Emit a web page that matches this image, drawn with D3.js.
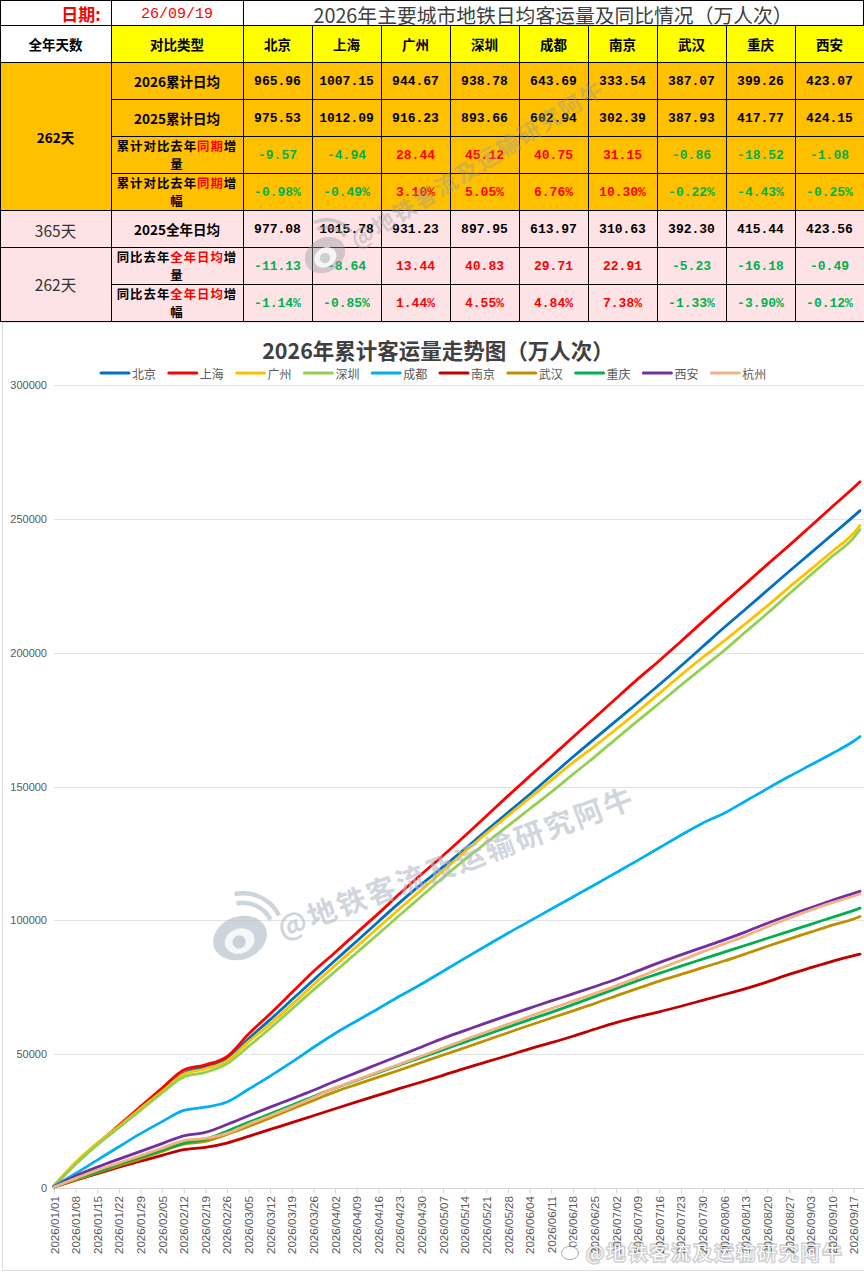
<!DOCTYPE html>
<html>
<head>
<meta charset="utf-8">
<script src="https://cdn.jsdelivr.net/npm/d3@7/dist/d3.min.js"></script>
<style>
  html, body { margin: 0; padding: 0; background: #fff; overflow: hidden; }
  svg { display: block; }
  text { font-family: "Noto Sans CJK SC", sans-serif; }
  .mono { font-family: "Liberation Mono", "Noto Sans CJK SC", monospace; }
  .axis text { font-family: "Liberation Sans", sans-serif; fill: #595959; }
  .axis path, .axis line { stroke: #d4d4d4; }
</style>
</head>
<body>
<div id="chart"></div>
<script>
// table contents
const tableDate = '26/09/19'
const tableTitle = '2026年主要城市地铁日均客运量及同比情况（万人次）'
const tableCities = ['北京', '上海', '广州', '深圳', '成都', '南京', '武汉', '重庆', '西安']
const rowLabels = ['2026累计日均', '2025累计日均', '累计对比去年同期增量', '累计对比去年同期增幅', '2025全年日均', '同比去年全年日均增量', '同比去年全年日均增幅']
const rowRedWords = ['', '', '同期', '同期', '', '全年日均', '全年日均']
const avg2026 = ['965.96', '1007.15', '944.67', '938.78', '643.69', '333.54', '387.07', '399.26', '423.07']
const avg2025 = ['975.53', '1012.09', '916.23', '893.66', '602.94', '302.39', '387.93', '417.77', '424.15']
const diffSame = ['-9.57', '-4.94', '28.44', '45.12', '40.75', '31.15', '-0.86', '-18.52', '-1.08']
const pctSame = ['-0.98%', '-0.49%', '3.10%', '5.05%', '6.76%', '10.30%', '-0.22%', '-4.43%', '-0.25%']
const avgFull = ['977.08', '1015.78', '931.23', '897.95', '613.97', '310.63', '392.30', '415.44', '423.56']
const diffFull = ['-11.13', '-8.64', '13.44', '40.83', '29.71', '22.91', '-5.23', '-16.18', '-0.49']
const pctFull = ['-1.14%', '-0.85%', '1.44%', '4.55%', '4.84%', '7.38%', '-1.33%', '-3.90%', '-0.12%']

// chart contents, one reading per week plus the last day
const dates = ['2026/01/01', '2026/01/08', '2026/01/15', '2026/01/22', '2026/01/29', '2026/02/05', '2026/02/12', '2026/02/19', '2026/02/26', '2026/03/05', '2026/03/12', '2026/03/19', '2026/03/26', '2026/04/02', '2026/04/09', '2026/04/16', '2026/04/23', '2026/04/30', '2026/05/07', '2026/05/14', '2026/05/21', '2026/05/28', '2026/06/04', '2026/06/11', '2026/06/18', '2026/06/25', '2026/07/02', '2026/07/09', '2026/07/16', '2026/07/23', '2026/07/30', '2026/08/06', '2026/08/13', '2026/08/20', '2026/08/27', '2026/09/03', '2026/09/10', '2026/09/17', '2026/09/19']
const beijing = [900, 9100, 16400, 22900, 29600, 36300, 42900, 45200, 48100, 55800, 62900, 70300, 77700, 85000, 92200, 99500, 106700, 113500, 120000, 126600, 133500, 140300, 147000, 154000, 161000, 167800, 174500, 181200, 188000, 195000, 202200, 209400, 216300, 223300, 230300, 237200, 244100, 251000, 253081]
const shanghai = [800, 9100, 16500, 23400, 30400, 37300, 44100, 46000, 49100, 57500, 65100, 73000, 80900, 88000, 95300, 102500, 110000, 117200, 124200, 131500, 139000, 146500, 153800, 161000, 168400, 175600, 182900, 190100, 197000, 204200, 211500, 218700, 225800, 233000, 240000, 247200, 254500, 261700, 263873]
const guangzhou = [800, 9600, 16800, 23000, 29700, 36100, 42500, 44500, 47500, 54700, 61300, 68500, 75900, 83100, 90200, 97300, 104400, 111400, 118500, 125600, 132500, 139100, 145700, 152300, 158900, 165000, 171400, 178000, 184800, 191600, 198200, 204400, 210900, 217500, 224400, 231000, 237800, 244700, 247503]
const shenzhen = [800, 9000, 16100, 22500, 29000, 35500, 41500, 43200, 46400, 52900, 59700, 66800, 74000, 80900, 87900, 94900, 102000, 109000, 116000, 122700, 129000, 135300, 141600, 147900, 154500, 161000, 167800, 174500, 181100, 187800, 194300, 200800, 207800, 214700, 221900, 229000, 236000, 243000, 245960]
const chengdu = [600, 5400, 10400, 15400, 20300, 24800, 29000, 30200, 32100, 36900, 41800, 47000, 52500, 57700, 62400, 67000, 71700, 76200, 81000, 85800, 90500, 95200, 99700, 104200, 108700, 113200, 117800, 122400, 127100, 131800, 136300, 140000, 144600, 149200, 153700, 158000, 162300, 167000, 168647]
const nanjing = [400, 2900, 5400, 7800, 10000, 12200, 14300, 15200, 16800, 19300, 21900, 24400, 27000, 29600, 32200, 34700, 37200, 39600, 42100, 44700, 47100, 49500, 52000, 54300, 56700, 59300, 61800, 63900, 65800, 67900, 70100, 72300, 74500, 77000, 79800, 82300, 84700, 86800, 87387]
const wuhan = [400, 3100, 5700, 8300, 10900, 13700, 16400, 17400, 20000, 23000, 26200, 29500, 32700, 35900, 38700, 41400, 44100, 46900, 49700, 52400, 55200, 58000, 60800, 63500, 66200, 68900, 71800, 74600, 77300, 79800, 82300, 84800, 87500, 90300, 93000, 95600, 98200, 100500, 101412]
const chongqing = [400, 3400, 6000, 8900, 11500, 14100, 16800, 18200, 21200, 24500, 27700, 30900, 34200, 37300, 40200, 43100, 46000, 48800, 51600, 54500, 57300, 60100, 62900, 65600, 68500, 71500, 74500, 77500, 80200, 82900, 85500, 88100, 90700, 93300, 95900, 98500, 101100, 103700, 104606]
const xian = [500, 4500, 7800, 10800, 13700, 16600, 19500, 20800, 23700, 27000, 30200, 33300, 36500, 39900, 43100, 46300, 49500, 52700, 55900, 58800, 61700, 64500, 67200, 69900, 72500, 75200, 78000, 81100, 84200, 87100, 89900, 92700, 95700, 98900, 101900, 104700, 107500, 110100, 110844]
const hangzhou = [400, 3600, 6700, 9400, 12100, 14900, 17700, 18500, 20400, 23800, 27000, 30300, 33800, 37400, 40400, 43400, 46300, 49300, 52300, 55400, 58300, 61200, 64100, 67000, 69800, 72600, 75500, 78600, 81900, 85000, 88200, 91200, 94200, 97600, 100800, 103800, 106600, 109100, 109900]
const chartCities = ['北京', '上海', '广州', '深圳', '成都', '南京', '武汉', '重庆', '西安', '杭州']
const seriesValues = [beijing, shanghai, guangzhou, shenzhen, chengdu, nanjing, wuhan, chongqing, xian, hangzhou]
const seriesColors = ['#0070C0', '#FF0000', '#FFC000', '#92D050', '#00B0F0', '#C00000', '#BF8F00', '#00B050', '#7030A0', '#F4B183']
const yTicks = [0, 50000, 100000, 150000, 200000, 250000, 300000]

const watermark = '@地铁客流及运输研究阿牛'

const svg = d3.select('#chart').append('svg')
  .attr('width', 864)
  .attr('height', 1272)

drawTable()
drawChart()

function drawTable () {
  const g = svg.append('g')
  const colX = d3.scaleOrdinal().domain(tableCities).range(d3.range(9).map(i => 243 + i * 69))
  const colW = 69
  const labelX = 111
  const labelW = 132
  const headY = 25
  const headH = 37
  const rowH = 37
  const rowsY = headY + headH
  const orange = '#FFC000'
  const pink = '#FDE3E6'
  const rowFill = i => (i < 4 ? orange : pink)
  const rowData = [avg2026, avg2025, diffSame, pctSame, avgFull, diffFull, pctFull]

  const cell = (x, y, w, h, fill) => g.append('rect')
    .attr('x', x + 0.5).attr('y', y + 0.5).attr('width', w).attr('height', h)
    .attr('fill', fill).attr('stroke', '#000').attr('stroke-width', 1)

  const label = (x, y, txt, opts = {}) => g.append('text')
    .attr('x', x).attr('y', y)
    .attr('text-anchor', opts.anchor || 'middle')
    .attr('dominant-baseline', 'central')
    .attr('class', opts.cls || null)
    .attr('font-size', opts.size || 13.5)
    .attr('font-weight', opts.weight || 'bold')
    .attr('fill', opts.fill || '#000')
    .text(txt)

  // top line with the date and the title
  cell(0, 0, labelX, headY, '#fff')
  cell(labelX, 0, labelW, headY, '#fff')
  cell(labelX + labelW, 0, colW * 9 - 1, headY, '#fff')
  label(81, 13, '日期:', {fill: '#FF0000', size: 17})
  label(177, 14, tableDate, {fill: '#FF0000', size: 15, weight: 'normal', cls: 'mono'})
  label(553, 14, tableTitle, {fill: '#404040', size: 19.8, weight: 'normal'})

  // header line
  cell(0, headY, labelX, headH, '#fff')
  label(55.5, headY + 19, '全年天数')
  cell(labelX, headY, labelW, headH, '#FFFF00')
  label(177, headY + 19, '对比类型')
  tableCities.forEach(c => {
    cell(colX(c), headY, colW, headH, '#FFFF00')
    label(colX(c) + colW / 2, headY + 19, c)
  })

  // left column, merged cells
  cell(0, rowsY, labelX, rowH * 4, orange)
  label(55.5, rowsY + rowH * 2 + 1, '262天', {size: 13.5})
  cell(0, rowsY + rowH * 4, labelX, rowH, pink)
  label(55.5, rowsY + rowH * 4 + 20, '365天', {size: 15.5, weight: 'normal', fill: '#333'})
  cell(0, rowsY + rowH * 5, labelX, rowH * 2, pink)
  label(55.5, rowsY + rowH * 6, '262天', {size: 15.5, weight: 'normal', fill: '#333'})

  rowLabels.forEach((txt, r) => {
    const y = rowsY + r * rowH
    cell(labelX, y, labelW, rowH, rowFill(r))
    const lines = txt.length > 9 ? [txt.slice(0, 9), txt.slice(9)] : [txt]
    const t = g.append('text')
      .attr('text-anchor', 'middle')
      .attr('dominant-baseline', 'central')
      .attr('font-size', lines.length > 1 ? 12.4 : 13.5)
      .attr('letter-spacing', lines.length > 1 ? 1 : 0)
      .attr('font-weight', 'bold')
    lines.forEach((line, i) => {
      const ln = t.append('tspan')
        .attr('x', labelX + labelW / 2)
        .attr('y', lines.length > 1 ? y + 9.5 + i * 18 : y + 19)
      const red = rowRedWords[r]
      const parts = red && line.includes(red) ? line.split(red) : [line]
      parts.forEach((p, k) => {
        if (k > 0) ln.append('tspan').attr('fill', '#FF0000').text(red)
        ln.append('tspan').attr('fill', '#000').text(p)
      })
    })
    tableCities.forEach((c, i) => {
      cell(colX(c), y, colW, rowH, rowFill(r))
      const v = rowData[r][i]
      const signed = r === 2 || r === 3 || r === 5 || r === 6
      const color = !signed ? '#000' : (v[0] === '-' ? '#00B050' : '#FF0000')
      label(colX(c) + colW / 2, y + 19, v, {fill: color, size: 13, cls: 'mono'})
    })
  })

  drawWatermark(325, 255, -32, 22.5, 'rgba(150,155,165,0.42)')
}

function drawChart () {
  const g = svg.append('g')
  const margin = {left: 54, right: 860, top: 385, bottom: 1188}
  const parse = d3.utcParse('%Y/%m/%d')
  const fmt = d3.utcFormat('%Y/%m/%d')
  const dateValues = dates.map(parse)

  const x = d3.scaleUtc()
    .domain([dateValues[0], dateValues[dateValues.length - 1]])
    .range([margin.left, margin.right])
  const y = d3.scaleLinear()
    .domain([0, 300000])
    .range([margin.bottom, margin.top])

  // frame of the pasted chart
  g.append('rect').attr('x', 0).attr('y', 322).attr('width', 864).attr('height', 950).attr('fill', '#fff')
  g.append('line').attr('x1', 2.5).attr('x2', 2.5).attr('y1', 323).attr('y2', 1270).attr('stroke', '#dcdcdc')
  g.append('line').attr('x1', 2).attr('x2', 864).attr('y1', 1270.5).attr('y2', 1270.5).attr('stroke', '#dcdcdc')
  g.append('line').attr('x1', 0).attr('x2', 864).attr('y1', 322.5).attr('y2', 322.5).attr('stroke', '#e6e6e6')

  // grid
  g.append('g').selectAll('line').data(yTicks.filter(d => d > 0)).enter().append('line')
    .attr('x1', margin.left).attr('x2', 864)
    .attr('y1', d => Math.round(y(d)) + 0.5).attr('y2', d => Math.round(y(d)) + 0.5)
    .attr('stroke', '#e2e2e2')

  // axes
  g.append('g').attr('class', 'axis')
    .attr('transform', `translate(${margin.left},0)`)
    .call(d3.axisLeft(y).tickValues(yTicks).tickFormat(d => d).tickSize(0).tickPadding(7))
    .call(a => a.select('.domain').remove())
    .selectAll('text').attr('font-size', 11)

  const xAxis = g.append('g').attr('class', 'axis')
    .attr('transform', `translate(0,${margin.bottom})`)
    .call(d3.axisBottom(x).tickValues(dateValues.slice(0, -1)).tickFormat(fmt).tickSize(5).tickSizeOuter(0))
  xAxis.select('.domain').attr('d', `M${margin.left},0.5H864`)
  xAxis.selectAll('text')
    .attr('font-size', 11.6)
    .attr('text-anchor', 'end')
    .attr('transform', 'rotate(-90)')
    .attr('x', -8)
    .attr('y', 0)
    .attr('dy', '0.35em')

  drawWatermark(240, 938, -20.5, 29, 'rgba(176,186,197,0.62)')

  // series, drawn in legend order so that 杭州 ends on top
  const line = d3.line()
    .x((d, i) => x(dateValues[i]))
    .y(d => y(d))
    .curve(d3.curveMonotoneX)
  g.append('g').selectAll('path').data(seriesValues).enter().append('path')
    .attr('d', line)
    .attr('fill', 'none')
    .attr('stroke', (d, i) => seriesColors[i])
    .attr('stroke-width', 2.8)
    .attr('stroke-linejoin', 'round')
    .attr('stroke-linecap', 'round')

  // title and legend
  g.append('text')
    .attr('x', 438).attr('y', 349)
    .attr('text-anchor', 'middle')
    .attr('dominant-baseline', 'central')
    .attr('font-size', 21.5)
    .attr('font-weight', 'bold')
    .attr('fill', '#404040')
    .text('2026年累计客运量走势图（万人次）')

  const legend = g.append('g').selectAll('g').data(chartCities).enter().append('g')
    .attr('transform', (d, i) => `translate(${100 + i * 67.8},373)`)
  legend.append('line')
    .attr('x1', 1).attr('x2', 29)
    .attr('stroke', (d, i) => seriesColors[i])
    .attr('stroke-width', 3)
    .attr('stroke-linecap', 'round')
  legend.append('text')
    .attr('x', 32)
    .attr('dominant-baseline', 'central')
    .attr('font-size', 12)
    .attr('fill', '#595959')
    .text(d => d)

  // bottom corner watermark
  const mark = svg.append('g')
  mark.append('text').attr('x', 586).attr('y', 1260)
    .attr('font-size', 19).attr('letter-spacing', 2.6)
    .attr('fill', 'rgba(90,90,90,0.35)').attr('stroke', 'rgba(90,90,90,0.28)').attr('stroke-width', 3)
    .text(watermark)
  mark.append('text').attr('x', 586).attr('y', 1260)
    .attr('font-size', 19).attr('letter-spacing', 2.6)
    .attr('fill', '#fff')
    .text(watermark)
  drawLogo(mark, 570, 1253, 8.5, 'rgba(255,255,255,0.95)', 'rgba(90,90,90,0.5)')
}

function drawWatermark (x0, y0, angle, size, fill) {
  const w = svg.append('g').attr('transform', `translate(${x0},${y0}) rotate(${angle})`)
  drawLogo(w, 0, 0, size * 0.95, fill, null)
  w.append('text')
    .attr('x', size * 1.35)
    .attr('y', size * 0.1)
    .attr('dominant-baseline', 'central')
    .attr('font-size', size)
    .attr('font-weight', 'bold')
    .attr('letter-spacing', size * 0.09)
    .attr('fill', fill)
    .text(watermark)
}

function drawLogo (parent, cx, cy, r, color, outline) {
  const l = parent.append('g').attr('transform', `translate(${cx},${cy})`)
  l.append('ellipse').attr('rx', r).attr('ry', r * 0.78)
    .attr('fill', color).attr('stroke', outline)
  l.append('ellipse').attr('cx', -r * 0.05).attr('cy', r * 0.1).attr('rx', r * 0.55).attr('ry', r * 0.45)
    .attr('fill', '#fff').attr('opacity', 0.8)
  l.append('circle').attr('cx', -r * 0.08).attr('cy', r * 0.12).attr('r', r * 0.24)
    .attr('fill', color)
  const arc = d3.arc().startAngle(0.15).endAngle(1.45)
  ;[1.05, 1.4].forEach(k => {
    l.append('path')
      .attr('d', arc({innerRadius: r * k, outerRadius: r * (k + 0.16)}))
      .attr('transform', `translate(${r * 0.15},${-r * 0.1})`)
      .attr('fill', color)
  })
}
</script>
</body>
</html>
